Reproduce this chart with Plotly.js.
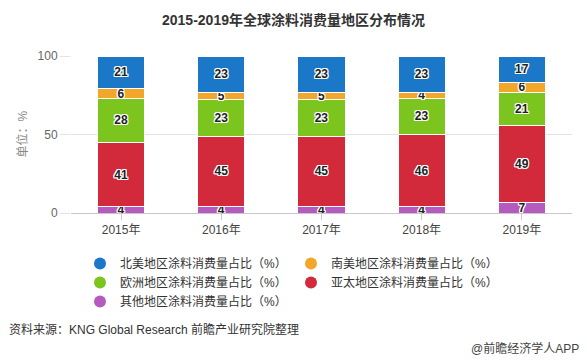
<!DOCTYPE html>
<html><head><meta charset="utf-8">
<script src="https://cdn.plot.ly/plotly-3.0.1.min.js"></script>
<style>html,body{margin:0;padding:0;background:#fff}</style>
</head><body><div id="chart" style="width:587px;height:361px"></div>
<script>
const years = ['2015年','2016年','2017年','2018年','2019年'];
const northAmerica = [21,23,23,23,17];
const southAmerica = [6,5,5,4,6];
const europe = [28,23,23,23,21];
const asiaPacific = [41,45,45,46,49];
const others = [4,4,4,4,7];
const names = {
  na:'北美地区涂料消费量占比（%）',
  sa:'南美地区涂料消费量占比（%）',
  eu:'欧洲地区涂料消费量占比（%）',
  ap:'亚太地区涂料消费量占比（%）',
  ot:'其他地区涂料消费量占比（%）'
};
const colors = {na:'#1b78c9', sa:'#f2a72b', eu:'#7cc51f', ap:'#d22a3b', ot:'#b55bbf'};
const FONT = 'Liberation Sans, Noto Sans CJK SC, sans-serif';
const shadow = '1px 1px 0 #fff, -1px -1px 0 #fff, 1px -1px 0 #fff, -1px 1px 0 #fff, 0 1px 0 #fff, 0 -1px 0 #fff, 1px 0 0 #fff, -1px 0 0 #fff';

function bar(key, vals){
  return {type:'bar', x:years, y:vals, name:names[key], showlegend:false,
    marker:{color:colors[key], line:{color:'#fff', width:1}},
    text:vals.map(String), textposition:'inside', insidetextanchor:'middle', textangle:0,
    constraintext:'none', cliponaxis:false,
    textfont:{family:FONT, size:12, color:'#222', weight:'bold', shadow:shadow},
    hoverinfo:'skip'};
}
function leg(key){
  return {type:'scatter', mode:'markers', x:[null], y:[null], name:names[key],
    marker:{color:colors[key], size:12, symbol:'circle'}, hoverinfo:'skip'};
}
const data = [
  bar('ot', others), bar('ap', asiaPacific), bar('eu', europe), bar('sa', southAmerica), bar('na', northAmerica),
  leg('na'), leg('sa'), leg('eu'), leg('ap'), leg('ot')
];
const layout = {
  width:587, height:361,
  margin:{l:71, r:15, t:56, b:148},
  paper_bgcolor:'#fff', plot_bgcolor:'#fff',
  barmode:'stack', bargap:0.53,
  font:{family:FONT, size:12, color:'#333'},
  title:{text:'<b>2015-2019年全球涂料消费量地区分布情况</b>', x:0.5, xanchor:'center', y:1-20/361, yanchor:'middle', yref:'container',
    font:{family:FONT, size:14, color:'#333'}},
  xaxis:{type:'category', showgrid:false, showline:true, linecolor:'#c8c8c8', linewidth:1,
    ticks:'outside', ticklen:6, tickcolor:'#c8c8c8', tickfont:{size:12, color:'#444'}, fixedrange:true},
  yaxis:{range:[0,100], tickvals:[0,50,100], showgrid:true, gridcolor:'#e3e3e3', zeroline:false,
    ticks:'outside', ticklen:10, tickcolor:'#e3e3e3', tickfont:{size:12, color:'#666'}, showline:false, fixedrange:true},
  legend:{orientation:'h', x:9/501, xanchor:'left', y:-0.23, yanchor:'top', traceorder:'normal',
    entrywidth:166, entrywidthmode:'pixels', font:{size:12, color:'#333'}, bgcolor:'rgba(0,0,0,0)'},
  annotations:[
    {text:'单位：%', textangle:-90, xref:'paper', yref:'paper', x:(22-71)/501, y:0.5, xanchor:'center', yanchor:'middle',
      showarrow:false, font:{size:12, color:'#888'}},
    {text:'资料来源：KNG Global Research 前瞻产业研究院整理', xref:'paper', yref:'paper', x:(7-71)/501, y:-(329-213)/157,
      xanchor:'left', yanchor:'middle', showarrow:false, font:{size:12, color:'#333'}},
    {text:'@前瞻经济学人APP', xref:'paper', yref:'paper', x:(581-71)/501, y:-(348-213)/157,
      xanchor:'right', yanchor:'middle', showarrow:false, font:{size:12, color:'#444'}}
  ]
};
Plotly.newPlot('chart', data, layout, {displayModeBar:false, staticPlot:true});
</script></body></html>
